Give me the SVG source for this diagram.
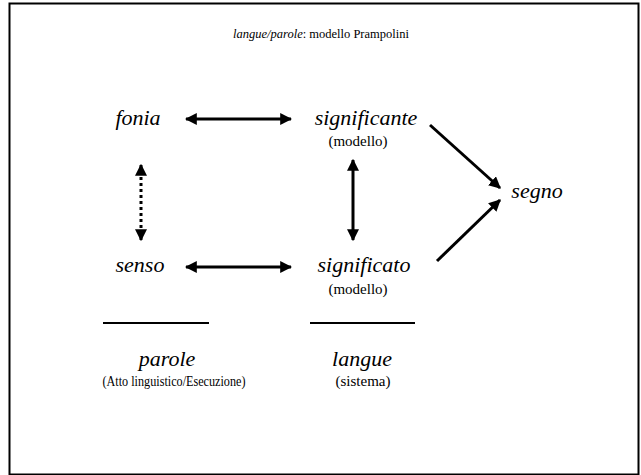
<svg xmlns="http://www.w3.org/2000/svg" width="641" height="475" viewBox="0 0 641 475">
<style>
.t{font-family:"Liberation Serif","Times New Roman",serif;fill:#000}
.i{font-style:italic;font-size:22px}
.s{font-size:15px}
.a{stroke:#000;stroke-width:3;fill:none}
</style>
<defs>
<marker id="ah" viewBox="0 0 10 10" refX="9" refY="5" markerWidth="4" markerHeight="4" orient="auto-start-reverse" markerUnits="strokeWidth">
<path d="M0,0 L10,5 L0,10 z" fill="#000"/>
</marker>
</defs>
<rect x="9.5" y="3.5" width="629" height="471" fill="#fff" stroke="#000" stroke-width="2"/>
<text class="t" x="321" y="38" font-size="12.5" text-anchor="middle"><tspan font-style="italic">langue/parole</tspan>: modello Prampolini</text>
<g id="fonia"><text class="t i" x="138" y="125" text-anchor="middle">fonia</text></g>
<g id="significante"><text class="t i" x="366" y="125" text-anchor="middle">significante</text><text class="t s" x="358" y="146" text-anchor="middle">(modello)</text></g>
<g id="senso"><text class="t i" x="140" y="272" text-anchor="middle">senso</text></g>
<g id="significato"><text class="t i" x="364" y="272" text-anchor="middle">significato</text><text class="t s" x="358" y="294" text-anchor="middle">(modello)</text></g>
<g id="segno"><text class="t i" x="537" y="198" text-anchor="middle">segno</text></g>
<g id="parole"><line x1="103" y1="323" x2="209" y2="323" stroke="#000" stroke-width="2"/><text class="t i" x="167" y="366" text-anchor="middle">parole</text><text class="t" x="174" y="386" font-size="14" text-anchor="middle" textLength="143" lengthAdjust="spacingAndGlyphs">(Atto linguistico/Esecuzione)</text></g>
<g id="langue"><line x1="310" y1="323" x2="415" y2="323" stroke="#000" stroke-width="2"/><text class="t i" x="362" y="366" text-anchor="middle">langue</text><text class="t s" x="363" y="386" text-anchor="middle">(sistema)</text></g>
<g id="connectors">
<line class="a" x1="186" y1="119" x2="291" y2="119" marker-start="url(#ah)" marker-end="url(#ah)"/>
<line class="a" x1="186" y1="267" x2="291" y2="267" marker-start="url(#ah)" marker-end="url(#ah)"/>
<line class="a" x1="141" y1="165" x2="141" y2="240" stroke-dasharray="3,3" marker-start="url(#ah)" marker-end="url(#ah)"/>
<line class="a" x1="353" y1="160" x2="353" y2="240" marker-start="url(#ah)" marker-end="url(#ah)"/>
<line class="a" x1="430" y1="125" x2="500" y2="188" marker-end="url(#ah)"/>
<line class="a" x1="437" y1="261" x2="500" y2="200" marker-end="url(#ah)"/>
</g>
</svg>
